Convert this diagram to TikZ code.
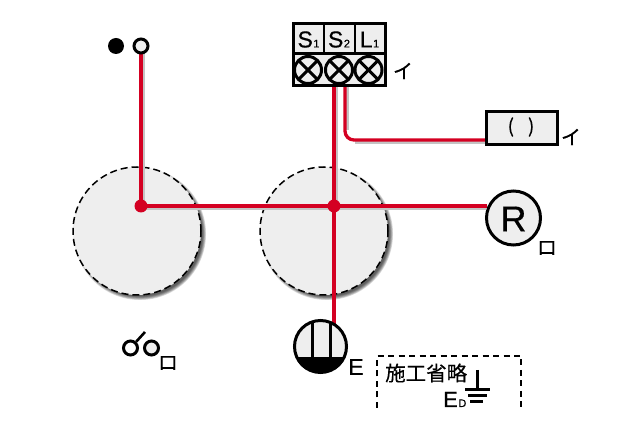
\documentclass[tikz,border=0pt]{standalone}
\usepackage{fontspec}
\setmainfont{Liberation Sans}[RawFeature={embolden=0.5}]
\newfontfamily\cjk{Noto Sans CJK JP}[RawFeature={embolden=0.4}]
\definecolor{wire}{HTML}{D40022}
\definecolor{pale}{HTML}{EEEEEE}
\definecolor{wireshade}{HTML}{C4C4C4}
\tikzset{
  x=1pt,y=-1pt,
  wirepath/.style={draw=wire,line width=3.3pt},
  wireback/.style={draw=wireshade,line width=3pt},
  dot/.style={circle,fill=wire,inner sep=0,minimum size=13pt},
  screwc/.style={circle,draw=black,line width=3pt,fill=pale,inner sep=0,minimum size=27pt},
  boxy/.style={draw=black,line width=3pt,fill=pale},
  roombig/.style={circle,draw=black,dash pattern=on 7pt off 4pt,line width=1.5pt,fill=pale,inner sep=0,minimum size=128pt},
  lab/.style={inner sep=0,font=\fontsize{23}{23}\selectfont},
  kana/.style={inner sep=0,font=\cjk\fontsize{20}{20}\selectfont},
}
\newcommand{\softshadow}[3]{%
  \foreach \d in {5,4,3,2,1,0}{\fill[black,opacity=0.15] (#1+3,#2+3) circle[radius=#3+\d*0.7-1.5];}}
\begin{document}
\begin{tikzpicture}
\useasboundingbox (0,0) rectangle (640,427);
\fill[white] (0,0) rectangle (640,427);
% rooms
\softshadow{137}{231}{64}
\softshadow{324}{231}{64}
\node[roombig] (roomA) at (137,231) {};
\node[roombig] (roomB) at (324,231) {};
% named anchors
\node[circle,fill=black,inner sep=0,minimum size=16pt] (blackdot) at (116,46) {};
\coordinate (tS2a) at (334,86);
\coordinate (tS2b) at (345,86);
\coordinate (lampin) at (334,326);
\coordinate (boxin) at (486,140);
\coordinate (cor) at (345,140);
\coordinate (rin) at (487,206);
\coordinate (j1) at (141,206);
\coordinate (j2) at (334,206);
\coordinate (top) at (141,50);
% wire shadows
\draw[wireback] (143.5,50) -- (143.5,204);
\draw[wireback] (336.5,86) -- (336.5,204);
\draw[wireback] (347.5,86) -- (347.5,130);
\draw[wireback] (141,208.5) -- (486,208.5);
\draw[wireback] (355,142.5) -- (486,142.5);
% wires
\draw[wirepath] (top) -- (j1) -- (j2) -- (rin);
\draw[wirepath] (tS2a) -- (lampin);
\draw[wirepath,rounded corners=9pt] (tS2b) -- (cor) -- (boxin);
\node[dot] (dotA) at (j1) {};
\node[dot] (dotB) at (j2) {};
\node[circle,draw=black,line width=3pt,fill=pale,inner sep=0,minimum size=14pt] (opendot) at (141,46) {};
% terminal block
\draw[boxy] (293,24) rectangle (385,86);
\draw[line width=3pt] (293,54) -- (385,54);
\draw[line width=2pt] (323.5,24) -- (323.5,54);
\draw[line width=2pt] (355,24) -- (355,54);
\node[lab] (s1) at (308.5,39.5) {S\kern0.5pt\fontsize{11}{11}\selectfont 1};
\node[lab] (s2) at (339,39.5) {S\kern0.5pt\fontsize{11}{11}\selectfont 2};
\node[lab] (l1) at (369.5,39.5) {L\kern0.5pt\fontsize{11}{11}\selectfont 1};
\foreach \n/\x in {sa/308,sb/339,sc/368.5}{
  \node[screwc] (\n) at (\x,70) {};
  \draw[line width=3pt] (\x-9,61) -- (\x+9,79);
  \draw[line width=3pt] (\x-9,79) -- (\x+9,61);
}
\node[kana] (ka) at (403,71) {イ};
% box
\node[draw=black,line width=3pt,fill=pale,minimum width=71pt,minimum height=33pt,inner sep=0] (bx) at (522,128) {};
\node[inner sep=0,font=\cjk\fontsize{19}{19}\selectfont] (bxt) at (521,127) {(\kern 14pt)};
\node[kana] (kb) at (571,137) {イ};
% R
\node[circle,draw=black,line width=3pt,fill=pale,inner sep=0,minimum size=54pt] (R) at (513.5,218) {};
\node[inner sep=0,font=\fontsize{36}{36}\selectfont] (Rt) at (513.5,219) {R};
\node[kana] (kc) at (547,248) {ロ};
% switch
\node[circle,draw=black,line width=3pt,inner sep=0,minimum size=14pt] (swa) at (130.5,348) {};
\node[circle,draw=black,line width=3pt,inner sep=0,minimum size=14pt,fill=pale] (swb) at (151.5,348) {};
\coordinate (swtip) at (145,332);
\draw[line width=2.6pt] (swa) -- (swtip);
\node[kana] (kd) at (168,363) {ロ};
% lamp
\node[circle,fill=pale,inner sep=0,minimum size=52pt] (lamp) at (320.5,346.5) {};
\begin{scope}
\clip (320.5,346.5) circle[radius=26];
\fill[black] (290,357) rectangle (350,375);
\draw[line width=3pt] (312,318) -- (312,357);
\draw[line width=3pt] (330,318) -- (330,357);
\end{scope}
\draw[line width=3pt] (lamp.center) circle[radius=26];
\node[lab] (E) at (356,367) {E};
% dashed box
\coordinate (da) at (377,408);
\coordinate (db) at (377,356);
\coordinate (dc) at (521,356);
\coordinate (dd) at (521,408);
\draw[line width=1.5pt,dash pattern=on 6pt off 4.5pt] (da) -- (db) -- (dc) -- (dd);
\node[inner sep=0,anchor=west,font=\cjk\fontsize{20.5}{21}\selectfont] (sk) at (385,373) {施工省略};
\coordinate (ga) at (477,370);
\coordinate (gb) at (477,390);
\draw[line width=3pt] (ga) -- (gb);
\draw[line width=3pt] (465,390) -- (490,390);
\draw[line width=3pt] (468,396) -- (487,396);
\draw[line width=3pt] (470,402) -- (483,402);
\node[inner sep=0,anchor=base west,font=\fontsize{22}{22}\selectfont] (ed) at (443,407) {E\kern0.5pt\fontsize{11}{11}\selectfont D};
\end{tikzpicture}
\end{document}
